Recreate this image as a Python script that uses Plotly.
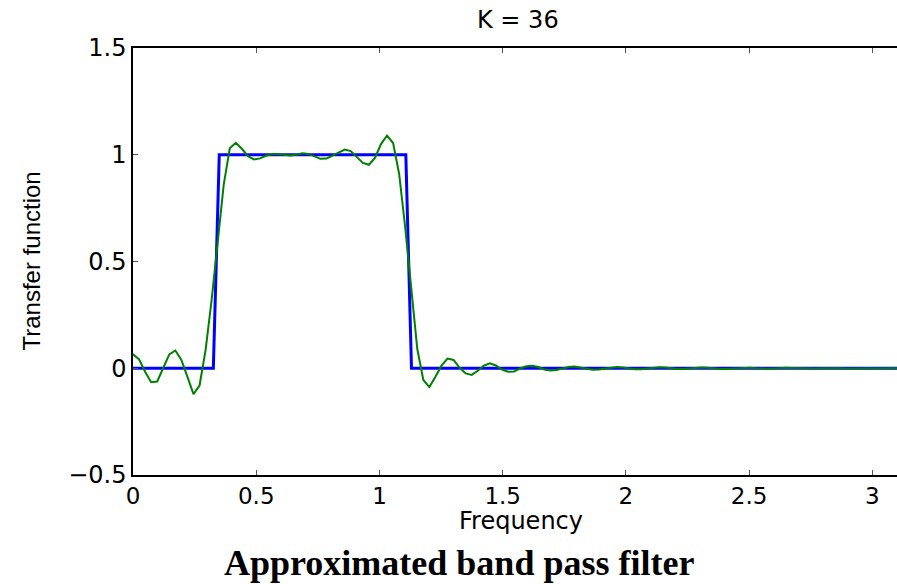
import numpy as np
import plotly.graph_objects as go

# Ideal band-pass transfer function (blue)
ideal_freq = [0.0, 0.326, 0.350, 1.107, 1.130, 3.1416]
ideal_resp = [0, 0, 1, 1, 0, 0]

# Approximated filter with K = 36 (green), sampled on a uniform grid 0..pi
approx_resp = [
    0.065, 0.042, -0.016, -0.065, -0.062, 0.005, 0.065, 0.083, 0.039, -0.040,
    -0.121, -0.081, 0.085, 0.32, 0.60, 0.86, 1.03, 1.056, 1.028, 0.993,
    0.978, 0.983, 0.995, 1.003, 1.003, 0.998, 0.996, 1.000, 1.007, 1.004,
    0.993, 0.981, 0.982, 0.996, 1.013, 1.024, 1.017, 0.990, 0.962, 0.953,
    0.985, 1.050, 1.090, 1.055, 0.91, 0.66, 0.36, 0.09, -0.055, -0.088,
    -0.040, 0.012, 0.045, 0.039, 0.002, -0.024, -0.031, -0.012, 0.012, 0.023,
    0.013, -0.006, -0.016, -0.015, -0.001, 0.009, 0.012, 0.006, -0.006, -0.010,
    -0.008, 0.000, 0.006, 0.008, 0.004, -0.003, -0.007, -0.006, -0.001, 0.004,
    0.006, 0.004, -0.001, -0.005, -0.005, -0.002, 0.003, 0.005, 0.003, -0.001,
    -0.004, -0.004, -0.001, 0.002, 0.004, 0.002, -0.001, -0.003, -0.003, -0.001,
    0.001, 0.002, 0.002, 0.000, -0.002, -0.002, -0.001, 0.001, 0.002, 0.001,
    0.000, -0.001, -0.002, -0.001, 0.000, 0.001, 0.001, 0.000, -0.001, -0.001,
    0.000, 0.001, 0.001, 0.000, -0.001, 0.000, 0.000, 0.000, 0.000,
]
approx_freq = np.linspace(0, np.pi, len(approx_resp))

x_ticks = [0, 0.5, 1, 1.5, 2, 2.5, 3]
x_ticktext = ["0", "0.5", "1", "1.5", "2", "2.5", "3"]
y_ticks = [-0.5, 0, 0.5, 1, 1.5]
y_ticktext = ["\u22120.5", "0", "0.5", "1", "1.5"]

title_text = "K = 36"
x_label = "Frequency"
y_label = "Transfer function"
caption = "Approximated band pass filter"

fig = go.Figure()
fig.add_trace(go.Scatter(x=ideal_freq, y=ideal_resp, mode="lines",
                         line=dict(color="#0000FF", width=3), showlegend=False))
fig.add_trace(go.Scatter(x=approx_freq, y=approx_resp, mode="lines",
                         line=dict(color="#008000", width=2), showlegend=False))

sans = "DejaVu Sans"
fig.update_layout(
    width=897, height=584,
    margin=dict(l=133, r=0, t=48, b=109),
    paper_bgcolor="white", plot_bgcolor="white",
    showlegend=False,
    xaxis=dict(range=[0, 3.1], tickvals=x_ticks, ticktext=x_ticktext,
               ticks="inside", ticklen=5, tickwidth=1, tickcolor="#555",
               showline=True, linecolor="black", linewidth=1.5,
               mirror="allticks", showgrid=False, zeroline=False,
               tickfont=dict(family=sans, size=23, color="black")),
    yaxis=dict(range=[-0.5, 1.5], tickvals=y_ticks, ticktext=y_ticktext,
               ticks="inside", ticklen=5, tickwidth=1, tickcolor="#555",
               showline=True, linecolor="black", linewidth=1.5,
               mirror=False, showgrid=False, zeroline=False,
               tickfont=dict(family=sans, size=24, color="black")),
    annotations=[
        dict(text=title_text, xref="paper", yref="paper",
             x=(518 - 133) / 764, y=1 + (48 - 20) / 427,
             xanchor="center", yanchor="middle", showarrow=False,
             font=dict(family=sans, size=24, color="black")),
        dict(text=x_label, xref="paper", yref="paper",
             x=(521 - 133) / 764, y=-(521 - 475) / 427,
             xanchor="center", yanchor="middle", showarrow=False,
             font=dict(family=sans, size=24, color="black")),
        dict(text=y_label, xref="paper", yref="paper",
             x=(31 - 133) / 764, y=0.5, textangle=-90,
             xanchor="center", yanchor="middle", showarrow=False,
             font=dict(family="Liberation Sans", size=24, color="black")),
        dict(text="<b>" + caption + "</b>", xref="paper", yref="paper",
             x=(459 - 133) / 764, y=-(563 - 475) / 427,
             xanchor="center", yanchor="middle", showarrow=False,
             font=dict(family="Liberation Serif", size=36, color="black")),
    ],
)

fig.write_html("out.html",
               config={"displayModeBar": False},
               post_script="document.body.style.margin='0';"
                           "document.body.style.overflow='hidden';")
